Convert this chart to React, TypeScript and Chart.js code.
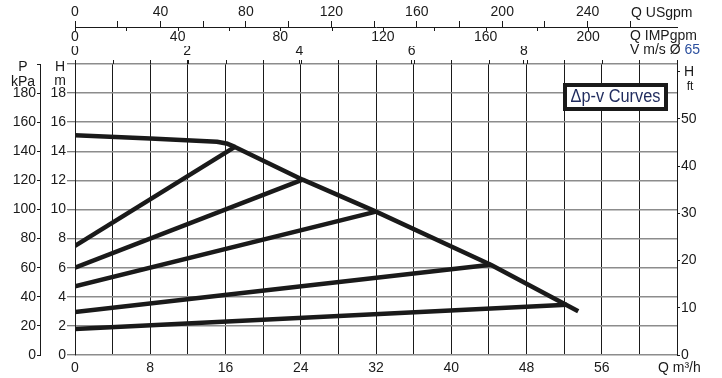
import { useEffect, useRef } from 'react';
import { Chart, registerables } from 'chart.js';

Chart.register(...registerables);

// ---- Axis ranges ----
const Q_MAX = 64; // m3/h (bottom axis)
const H_MAX = 20; // m
const P_MAX = 200; // kPa
const FT_MAX = 61.65; // ft scale as printed on the right
const USGPM_MAX = 281.8;
const IMPGPM_MAX = 234.6;
const V_MAX = 10.73; // m/s, Ø 65

// ---- Maximum curve (Q m3/h, H m) ----
const maxCurveQ = [0, 8, 15.1, 16.1, 17.0, 24.2, 32.0, 44.2, 53.5];
const maxCurveH = [15.1, 14.88, 14.66, 14.54, 14.3, 12.05, 9.85, 6.2, 3.0];

// ---- Δp-v control lines: start at Q = 0, end on the max curve ----
const dpvStartQ = [0, 0, 0, 0, 0];
const dpvStartH = [7.5, 6.0, 4.72, 2.96, 1.78];
const dpvEndQ = [17.0, 24.2, 32.0, 44.2, 52.3];
const dpvEndH = [14.3, 12.05, 9.85, 6.2, 3.45];

const TEXT = '#1a1a1a';
const LINE = '#1a1a1a';
const FAMILY = "'Liberation Sans', Arial, Helvetica, sans-serif";
const font = { family: FAMILY, size: 14 };

const decorPlugin = {
  id: 'decor',
  afterDraw(chart: any) {
    const ctx = chart.ctx as CanvasRenderingContext2D;
    const area = chart.chartArea;
    const xs = chart.scales.x;
    const us = chart.scales.xUs;
    const imp = chart.scales.xImp;
    ctx.save();

    // short extensions of vertical grid lines above plot top
    ctx.strokeStyle = LINE;
    ctx.lineWidth = 1;
    xs.ticks.forEach((t: any) => {
      const px = Math.round(xs.getPixelForValue(t.value)) + 0.5;
      ctx.beginPath();
      ctx.moveTo(px, area.top - 4);
      ctx.lineTo(px, area.top);
      ctx.stroke();
    });

    // IMPgpm ticks hanging below the USgpm line
    const y0 = Math.round(us.bottom);
    imp.ticks.forEach((t: any) => {
      if (t.value > 200) return;
      const px = Math.round(imp.getPixelForValue(t.value)) + 0.5;
      ctx.beginPath();
      ctx.moveTo(px, y0);
      ctx.lineTo(px, y0 + 4);
      ctx.stroke();
    });

    const txt = (s: string, x: number, y: number, align: CanvasTextAlign = 'left', size = 14, color = TEXT) => {
      ctx.font = `${size}px ${FAMILY}`;
      ctx.fillStyle = color;
      ctx.textAlign = align;
      ctx.textBaseline = 'middle';
      ctx.fillText(s, x, y);
    };

    // unit labels
    txt('Q USgpm', 631, 13);
    txt('Q IMPgpm', 630, 36);
    ctx.font = `14px ${FAMILY}`;
    const vLab = 'V m/s Ø ';
    const w = ctx.measureText(vLab).width;
    txt(vLab, 630, 50.5);
    txt('65', 630 + w, 50.5, 'left', 14, '#2b4f9e');
    txt('Q m³/h', 658, 368);
    txt('P', 23, 67, 'center');
    txt('kPa', 23, 82, 'center');
    txt('H', 60, 67, 'center');
    txt('m', 60, 81, 'center');
    txt('H', 689, 72, 'center');
    txt('ft', 690, 86.5, 'center', 12);

    // legend box
    ctx.fillStyle = '#ffffff';
    ctx.fillRect(565, 85, 101, 24);
    ctx.lineWidth = 4;
    ctx.strokeStyle = LINE;
    ctx.strokeRect(565, 85, 101, 24);
    ctx.font = `18px 'Liberation Sans Narrow', 'Liberation Sans', Arial, sans-serif`;
    ctx.fillStyle = '#1f2b5e';
    ctx.textAlign = 'center';
    ctx.textBaseline = 'middle';
    ctx.fillText('Δp-v Curves', 615.5, 97.5, 90);

    ctx.restore();
  },
};

export default function App() {
  const ref = useRef<HTMLCanvasElement | null>(null);

  useEffect(() => {
    if (!ref.current) return;
    const lineStyle = {
      showLine: true,
      borderColor: LINE,
      backgroundColor: LINE,
      borderWidth: 4.5,
      pointRadius: 0,
      pointHoverRadius: 0,
      fill: false,
      borderCapStyle: 'butt' as const,
      borderJoinStyle: 'round' as const,
      tension: 0,
    };
    const datasets: any[] = [
      {
        label: 'Max',
        data: maxCurveQ.map((q, i) => ({ x: q, y: maxCurveH[i] })),
        ...lineStyle,
      },
      ...dpvStartH.map((h, i) => ({
        label: `Δp-v ${i + 1}`,
        data: [
          { x: dpvStartQ[i], y: h },
          { x: dpvEndQ[i], y: dpvEndH[i] },
        ],
        ...lineStyle,
      })),
    ];

    const hideAbove = (limit: number) => (c: any) =>
      c.tick && c.tick.value > limit ? 'rgba(0,0,0,0)' : LINE;

    const chart = new Chart(ref.current, {
      type: 'scatter',
      data: { datasets },
      plugins: [decorPlugin],
      options: {
        responsive: false,
        devicePixelRatio: 1,
        animation: false,
        layout: { padding: 0 },
        plugins: { legend: { display: false }, tooltip: { enabled: false } },
        events: [],
        scales: {
          x: {
            type: 'linear',
            position: 'bottom',
            min: 0,
            max: Q_MAX,
            weight: 0,
            ticks: {
              stepSize: 4,
              autoSkip: false,
              maxRotation: 0,
              padding: 5,
              color: TEXT,
              font,
              callback: (v: any) => (v % 8 === 0 && v < Q_MAX ? String(v) : ''),
            },
            grid: { color: LINE, lineWidth: 1, drawTicks: false },
            border: { display: false },
            afterFit: (s: any) => {
              s.height = 23;
            },
          },
          y: {
            type: 'linear',
            position: 'left',
            min: 0,
            max: H_MAX,
            weight: 0,
            ticks: {
              stepSize: 2,
              autoSkip: false,
              padding: 1,
              color: TEXT,
              font,
              callback: (v: any) => (v < H_MAX ? String(v) : ''),
            },
            grid: { color: '#8c8c8c', lineWidth: 1.5, drawTicks: true, tickLength: 8, tickColor: '#555', tickWidth: 1 },
            border: { display: true, color: LINE, width: 1 },
            afterFit: (s: any) => {
              s.width = 35;
            },
          },
          yKpa: {
            type: 'linear',
            position: 'left',
            min: 0,
            max: P_MAX,
            weight: 1,
            ticks: {
              stepSize: 20,
              autoSkip: false,
              padding: 1,
              color: TEXT,
              font,
              callback: (v: any) => (v < P_MAX ? String(v) : ''),
            },
            grid: { drawOnChartArea: false, drawTicks: true, tickLength: 3, tickColor: LINE },
            border: { display: true, color: LINE, width: 1 },
            afterFit: (s: any) => {
              s.width = 40;
            },
          },
          yFt: {
            type: 'linear',
            position: 'right',
            min: 0,
            max: FT_MAX,
            ticks: {
              stepSize: 10,
              includeBounds: false,
              autoSkip: false,
              padding: 1,
              color: TEXT,
              font,
              callback: (v: any) => (v < 60 ? String(v) : ''),
            },
            grid: { drawOnChartArea: false, drawTicks: true, tickLength: 3, tickColor: LINE },
            border: { display: true, color: LINE, width: 1 },
            afterFit: (s: any) => {
              s.width = 45;
            },
          },
          xV: {
            type: 'linear',
            position: 'top',
            min: 0,
            max: V_MAX,
            weight: 0,
            ticks: {
              stepSize: 2,
              includeBounds: false,
              autoSkip: false,
              maxRotation: 0,
              padding: 0,
              color: TEXT,
              font,
              callback: (v: any) => (v <= 8 ? String(v) : ''),
            },
            grid: { drawOnChartArea: false, drawTicks: true, tickLength: 4, tickColor: hideAbove(8) },
            border: { display: false },
            afterFit: (s: any) => {
              s.height = 18;
            },
          },
          xImp: {
            type: 'linear',
            position: 'top',
            min: 0,
            max: IMPGPM_MAX,
            weight: 1,
            ticks: {
              stepSize: 20,
              includeBounds: false,
              autoSkip: false,
              maxRotation: 0,
              padding: 0,
              color: TEXT,
              font,
              callback: (v: any) => (v % 40 === 0 && v <= 200 ? String(v) : ''),
            },
            grid: { drawOnChartArea: false, drawTicks: false },
            border: { display: false },
            afterFit: (s: any) => {
              s.height = 19;
            },
          },
          xUs: {
            type: 'linear',
            position: 'top',
            min: 0,
            max: USGPM_MAX,
            weight: 2,
            ticks: {
              stepSize: 20,
              includeBounds: false,
              autoSkip: false,
              maxRotation: 0,
              padding: 0,
              color: TEXT,
              font,
              callback: (v: any) => (v % 40 === 0 && v <= 240 ? String(v) : ''),
            },
            grid: { drawOnChartArea: false, drawTicks: true, tickLength: 6, tickColor: hideAbove(260) },
            border: { display: true, color: LINE, width: 1 },
            afterFit: (s: any) => {
              s.height = 27;
            },
          },
        },
      } as any,
    });
    return () => chart.destroy();
  }, []);

  return (
    <div style={{ position: 'absolute', left: 0, top: 0, width: 722, height: 378, background: '#fff' }}>
      <canvas ref={ref} width={722} height={378} style={{ display: 'block', width: 722, height: 378 }} />
    </div>
  );
}
